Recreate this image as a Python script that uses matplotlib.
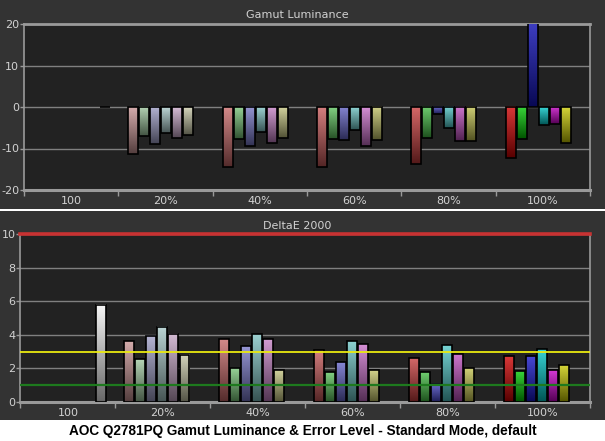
import numpy as np
import matplotlib.pyplot as plt
from matplotlib.colors import to_rgb

plt.rcParams['axes.unicode_minus'] = False

groups = ['100', '20%', '40%', '60%', '80%', '100%']

# white patch sits alone in the first group
white_lum = 0.0
white_de = 5.8

# gamut luminance error (%) for 20/40/60/80/100% saturation
lum_red = [-11.3, -14.4, -14.4, -13.7, -12.3]
lum_green = [-7.1, -7.6, -7.7, -7.5, -7.7]
lum_blue = [-9.0, -9.4, -8.0, -1.7, 24.0]
lum_cyan = [-6.2, -6.0, -5.5, -5.1, -4.3]
lum_magenta = [-7.4, -8.6, -9.3, -8.2, -4.1]
lum_yellow = [-6.7, -7.4, -8.0, -8.2, -8.6]

# deltaE 2000
de_red = [3.62, 3.74, 3.08, 2.60, 2.72]
de_green = [2.54, 2.00, 1.78, 1.78, 1.82]
de_blue = [3.94, 3.32, 2.36, 1.10, 2.72]
de_cyan = [4.48, 4.04, 3.62, 3.38, 3.14]
de_magenta = [4.06, 3.74, 3.44, 2.84, 1.88]
de_yellow = [2.80, 1.90, 1.88, 2.00, 2.18]

# bar colours per saturation level (r, g, b, c, m, y)
cols_20 = ['#c89494', '#a0c8a0', '#a0a0c8', '#a8c8c8', '#c8a8c8', '#c8c8a8']
cols_40 = ['#c86868', '#78c478', '#7878c8', '#80c4c4', '#c480c4', '#c4c480']
cols_60 = ['#c85a5a', '#5ec45e', '#6464c8', '#6cc4c4', '#c86ec8', '#c4c468']
cols_80 = ['#c83c3c', '#46c046', '#4646c8', '#50c8c8', '#c050c0', '#c4c450']
cols_100 = ['#d00000', '#00c800', '#1414c8', '#00c8c8', '#c800c8', '#c8c800']

BG = '#333333'
AX_BG = '#222222'
TXT = '#d2d2d2'
SPINE = '#9a9a9a'

lum_series = [lum_red, lum_green, lum_blue, lum_cyan, lum_magenta, lum_yellow]
de_series = [de_red, de_green, de_blue, de_cyan, de_magenta, de_yellow]
level_cols = [cols_20, cols_40, cols_60, cols_80, cols_100]

W, H = 605, 441
fig = plt.figure(figsize=(W / 100, H / 100), dpi=100, facecolor='white')

# dark panel backgrounds with a white divider and white footer
fig.patches.append(plt.Rectangle((0, 1 - 209 / H), 1, 209 / H, transform=fig.transFigure,
                                 facecolor=BG, edgecolor='none', zorder=-5))
fig.patches.append(plt.Rectangle((0, 1 - 420 / H), 1, (420 - 211) / H, transform=fig.transFigure,
                                 facecolor=BG, edgecolor='none', zorder=-5))

ax1 = fig.add_axes([24 / W, 1 - 190 / H, (590 - 24) / W, (190 - 24) / H])
ax2 = fig.add_axes([20.5 / W, 1 - 402 / H, (590 - 20.5) / W, (402 - 234) / H])

pitch = 0.1167
bw = 0.105


def grad_bars(ax, xs, vals, colors):
    bars = ax.bar(xs, vals, width=bw, align='edge', facecolor='none',
                  edgecolor='black', linewidth=1.2, zorder=4)
    for b, c in zip(bars, colors):
        c = np.array(to_rgb(c))
        light = c + (1 - c) * 0.22
        dark = c * 0.42
        t = np.linspace(0, 1, 64)[:, None]
        img = (light * (1 - t) + dark * t).reshape(64, 1, 3)
        x0 = b.get_x()
        y0, y1 = sorted([b.get_y(), b.get_y() + b.get_height()])
        ax.imshow(img, extent=[x0, x0 + bw, y0, y1], origin='upper',
                  aspect='auto', interpolation='bilinear', zorder=3)


def draw_panel(ax, series, white_val, offset):
    grad_bars(ax, [0 + offset + 6 * pitch], [white_val], ['#f4f4f4'])
    for lvl in range(5):
        xs = [lvl + 1 + offset + k * pitch for k in range(6)]
        vals = [s[lvl] for s in series]
        grad_bars(ax, xs, vals, level_cols[lvl])


draw_panel(ax1, lum_series, white_lum, 0.106)
draw_panel(ax2, de_series, white_de, 0.092)

for ax in (ax1, ax2):
    ax.set_zorder(2)
    ax.set_facecolor(AX_BG)
    ax.set_xlim(0, 6)
    ax.set_xticks(range(7))
    ax.set_xticklabels([])
    ax.set_xticks(np.arange(6) + 0.5, minor=True)
    ax.set_xticklabels(groups, minor=True)
    ax.tick_params(axis='x', which='major', length=4, color=SPINE, width=1)
    ax.tick_params(axis='x', which='minor', length=0, pad=4, labelcolor=TXT, labelsize=8)
    ax.tick_params(axis='y', length=3, color=SPINE, width=1, pad=0.5, labelcolor=TXT, labelsize=8)
    ax.grid(axis='y', color='#808080', linewidth=1, zorder=1)
    ax.set_axisbelow(True)
    for s in ax.spines.values():
        s.set_color(SPINE)
        s.set_linewidth(1.2)
    ax.spines['bottom'].set_linewidth(2.2)

ax1.set_ylim(-20, 20)
ax1.set_yticks([-20, -10, 0, 10, 20])
ax1.spines['top'].set_linewidth(2)

ax2.set_ylim(0, 10)
ax2.set_yticks([0, 2, 4, 6, 8, 10])
ax2.spines['top'].set_visible(False)
ax2.axhline(10, color='#c83232', linewidth=2.6, zorder=6, clip_on=False)
ax2.axhline(3, color='#eaea10', linewidth=1.3, zorder=6)
ax2.axhline(1, color='#1e7a1e', linewidth=1.6, zorder=6)

fig.text(297.5 / W, 1 - 15.5 / H, 'Gamut Luminance', color=TXT, fontsize=8,
         ha='center', va='center')
fig.text(297.5 / W, 1 - 226 / H, 'DeltaE 2000', color=TXT, fontsize=8,
         ha='center', va='center')
fig.text(303 / W, 1 - 431 / H,
         'AOC Q2781PQ Gamut Luminance & Error Level - Standard Mode, default',
         color='black', fontsize=9.8, fontweight='bold', family='Liberation Sans',
         ha='center', va='center')

fig.savefig('out.png', dpi=100, facecolor=fig.get_facecolor())
